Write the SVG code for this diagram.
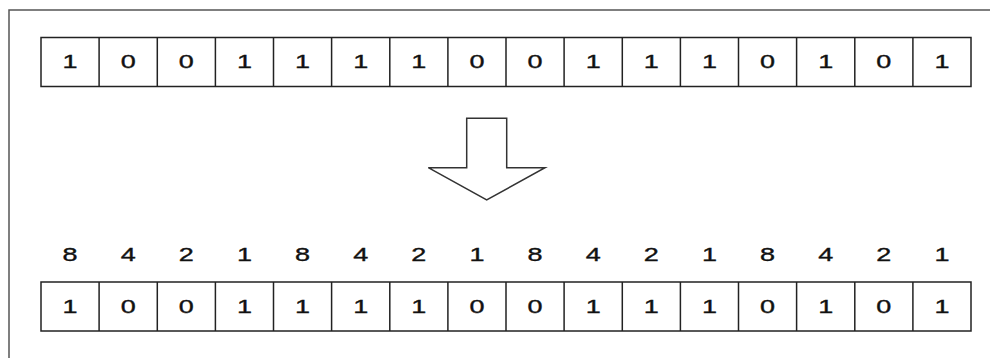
<svg xmlns="http://www.w3.org/2000/svg" width="990" height="358" viewBox="0 0 990 358">
<style>
.cell{fill:#fff;stroke:#222;stroke-width:1.5}
.d{font-family:"Liberation Sans",Arial,sans-serif;font-size:18px;fill:#111;text-anchor:middle;stroke:#111;stroke-width:0.35}
.frame{fill:none;stroke:#555;stroke-width:1.5}
</style>
<rect width="990" height="358" fill="#fff"/>
<path class="frame" d="M990,10 H9 V358"/>
<g id="top-row">
<rect class="cell" x="41" y="37.5" width="930" height="49"/>
<path class="cell" fill="none" d="M99.1,37.5V86.5M157.3,37.5V86.5M215.4,37.5V86.5M273.5,37.5V86.5M331.6,37.5V86.5M389.8,37.5V86.5M447.9,37.5V86.5M506,37.5V86.5M564.1,37.5V86.5M622.3,37.5V86.5M680.4,37.5V86.5M738.5,37.5V86.5M796.6,37.5V86.5M854.8,37.5V86.5M912.9,37.5V86.5"/>
<g class="d" transform="scale(1.5,1)">
<text x="46.67" y="68.5">1</text><text x="85.47" y="68.5">0</text><text x="124.2" y="68.5">0</text><text x="163" y="68.5">1</text>
<text x="201.7" y="68.5">1</text><text x="240.5" y="68.5">1</text><text x="279.2" y="68.5">1</text><text x="318" y="68.5">0</text>
<text x="356.7" y="68.5">0</text><text x="395.5" y="68.5">1</text><text x="434.2" y="68.5">1</text><text x="473" y="68.5">1</text>
<text x="511.7" y="68.5">0</text><text x="550.5" y="68.5">1</text><text x="589.2" y="68.5">0</text><text x="628" y="68.5">1</text>
</g>
</g>
<g id="arrow">
<polygon points="466.7,118.3 506.7,118.3 506.7,167.7 545,167.7 486.7,200 428.3,167.7 466.7,167.7" fill="#fff" stroke="#333" stroke-width="1.5"/>
</g>
<g id="weights" class="d" transform="scale(1.5,1)">
<text x="46.67" y="261.5">8</text><text x="85.47" y="261.5">4</text><text x="124.2" y="261.5">2</text><text x="163" y="261.5">1</text>
<text x="201.7" y="261.5">8</text><text x="240.5" y="261.5">4</text><text x="279.2" y="261.5">2</text><text x="318" y="261.5">1</text>
<text x="356.7" y="261.5">8</text><text x="395.5" y="261.5">4</text><text x="434.2" y="261.5">2</text><text x="473" y="261.5">1</text>
<text x="511.7" y="261.5">8</text><text x="550.5" y="261.5">4</text><text x="589.2" y="261.5">2</text><text x="628" y="261.5">1</text>
</g>
<g id="bottom-row">
<rect class="cell" x="41" y="282" width="930" height="49"/>
<path class="cell" fill="none" d="M99.1,282V331M157.3,282V331M215.4,282V331M273.5,282V331M331.6,282V331M389.8,282V331M447.9,282V331M506,282V331M564.1,282V331M622.3,282V331M680.4,282V331M738.5,282V331M796.6,282V331M854.8,282V331M912.9,282V331"/>
<g class="d" transform="scale(1.5,1)">
<text x="46.67" y="313.5">1</text><text x="85.47" y="313.5">0</text><text x="124.2" y="313.5">0</text><text x="163" y="313.5">1</text>
<text x="201.7" y="313.5">1</text><text x="240.5" y="313.5">1</text><text x="279.2" y="313.5">1</text><text x="318" y="313.5">0</text>
<text x="356.7" y="313.5">0</text><text x="395.5" y="313.5">1</text><text x="434.2" y="313.5">1</text><text x="473" y="313.5">1</text>
<text x="511.7" y="313.5">0</text><text x="550.5" y="313.5">1</text><text x="589.2" y="313.5">0</text><text x="628" y="313.5">1</text>
</g>
</g>
</svg>
